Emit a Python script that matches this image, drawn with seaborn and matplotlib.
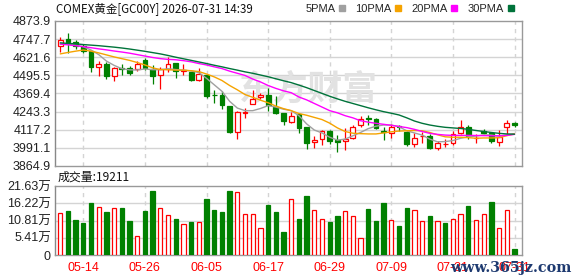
import numpy as np
import pandas as pd
import matplotlib
matplotlib.use("Agg")
import matplotlib.pyplot as plt
from matplotlib.lines import Line2D
import seaborn as sns

# ---------------- data ----------------
tick_dates = ["05-14", "05-26", "06-05", "06-17", "06-29", "07-09", "07-21", "07-31"]
tick_bars = [3, 11, 19, 27, 35, 43, 51, 59]

open_ = [4697, 4747, 4727, 4698, 4663, 4556, 4575, 4493, 4544, 4548,
         4540, 4605, 4540, 4495, 4537, 4582, 4528, 4519, 4465, 4501,
         4362, 4360, 4283, 4100, 4236, 4298, 4342, 4359, 4278, 4236,
         4168, 4225, 4138, 4033, 4052, 4105, 4044, 4039, 4061, 4148,
         4196, 4195, 4111, 4093, 4141, 4104, 4015, 4071, 4075, 3990,
         4016, 4026, 4092, 4133, 4057, 4111, 4098, 4032, 4135, 4167]
close = [4743, 4728, 4700, 4665, 4552, 4578, 4492, 4545, 4540, 4515,
         4578, 4547, 4493, 4542, 4574, 4527, 4533, 4465, 4505, 4352,
         4357, 4291, 4100, 4242, 4243, 4332, 4359, 4286, 4234, 4180,
         4213, 4130, 4025, 4047, 4110, 4036, 4032, 4050, 4138, 4193,
         4190, 4129, 4103, 4138, 4134, 4021, 4061, 4077, 3990, 4027,
         4020, 4089, 4137, 4071, 4060, 4092, 4041, 4064, 4165, 4148]
high = [4761, 4790, 4740, 4713, 4665, 4594, 4590, 4557, 4575, 4559,
        4594, 4615, 4568, 4553, 4621, 4582, 4575, 4519, 4546, 4505,
        4395, 4390, 4285, 4251, 4271, 4395, 4374, 4410, 4353, 4236,
        4238, 4226, 4138, 4076, 4114, 4113, 4082, 4127, 4150, 4212,
        4219, 4200, 4138, 4155, 4153, 4111, 4097, 4102, 4085, 4039,
        4051, 4109, 4182, 4150, 4085, 4120, 4098, 4113, 4187, 4172]
low = [4661, 4652, 4682, 4653, 4522, 4490, 4472, 4459, 4496, 4496,
       4525, 4534, 4436, 4401, 4519, 4480, 4501, 4459, 4457, 4341,
       4300, 4263, 4098, 4056, 4197, 4294, 4332, 4246, 4226, 4148,
       4162, 4095, 3980, 3991, 4010, 4021, 3960, 3977, 4051, 4136,
       4148, 4120, 4044, 4062, 4105, 4005, 4000, 4028, 3982, 3975,
       3998, 4012, 4090, 4051, 4028, 4085, 4028, 4005, 4090, 4138]

ma5 = [4715, 4712, 4706, 4695, 4672, 4640, 4595, 4565, 4542, 4534,
       4533, 4540, 4535, 4535, 4542, 4536, 4532, 4526, 4515, 4475,
       4430, 4385, 4315, 4268, 4250, 4250, 4265, 4285, 4275, 4260,
       4250, 4215, 4158, 4115, 4095, 4065, 4045, 4052, 4075, 4098,
       4125, 4142, 4150, 4150, 4138, 4110, 4095, 4080, 4052, 4033,
       4035, 4042, 4058, 4068, 4073, 4082, 4080, 4072, 4082, 4090]
ma10 = [4645, 4655, 4664, 4672, 4664, 4652, 4638, 4624, 4612, 4600,
        4585, 4568, 4548, 4536, 4535, 4532, 4532, 4528, 4522, 4505,
        4485, 4460, 4425, 4395, 4362, 4343, 4323, 4305, 4282, 4264,
        4250, 4230, 4218, 4203, 4188, 4163, 4130, 4105, 4093, 4090,
        4088, 4088, 4095, 4103, 4108, 4110, 4112, 4110, 4098, 4082,
        4068, 4065, 4065, 4062, 4058, 4060, 4060, 4062, 4076, 4088]
ma20 = [4713, 4708, 4702, 4695, 4688, 4680, 4673, 4665, 4658, 4650,
        4640, 4630, 4620, 4612, 4607, 4604, 4598, 4590, 4578, 4568,
        4555, 4543, 4525, 4510, 4495, 4470, 4450, 4425, 4405, 4388,
        4375, 4345, 4325, 4300, 4275, 4250, 4235, 4215, 4200, 4180,
        4170, 4162, 4155, 4148, 4140, 4132, 4120, 4105, 4092, 4085,
        4080, 4078, 4078, 4078, 4077, 4076, 4075, 4075, 4078, 4085]
ma30 = [4722, 4718, 4715, 4710, 4706, 4702, 4697, 4692, 4686, 4679,
        4671, 4663, 4654, 4645, 4634, 4622, 4611, 4600, 4589, 4578,
        4566, 4555, 4543, 4532, 4520, 4510, 4498, 4486, 4472, 4458,
        4445, 4428, 4410, 4390, 4370, 4350, 4332, 4315, 4300, 4285,
        4270, 4256, 4243, 4232, 4220, 4200, 4178, 4162, 4150, 4141,
        4134, 4130, 4126, 4120, 4112, 4105, 4098, 4092, 4088, 4086]

volume = [13.3, 13.7, 11.1, 10.0, 16.2, 14.9, 13.4, 14.6, 14.7, 10.6,
          6.1, 13.7, 20.0, 14.6, 12.4, 11.2, 9.6, 10.3, 10.5, 17.5,
          14.0, 13.4, 20.0, 19.9, 13.0, 12.8, 8.6, 15.6, 13.4, 7.2,
          17.4, 11.4, 18.4, 14.2, 11.4, 10.3, 12.2, 13.9, 12.1, 5.2,
          14.4, 10.6, 16.2, 11.1, 9.0, 14.7, 14.2, 10.8, 12.2, 10.8,
          10.0, 11.4, 12.8, 15.3, 11.1, 13.0, 16.5, 8.6, 14.2, 1.92]
vol_up = [1, 0, 0, 0, 0, 1, 0, 1, 0, 0,
          1, 0, 0, 1, 1, 0, 1, 0, 1, 0,
          0, 0, 0, 1, 1, 1, 1, 0, 0, 0,
          1, 0, 0, 1, 1, 0, 0, 1, 1, 1,
          0, 0, 0, 1, 0, 0, 1, 1, 0, 1,
          0, 1, 1, 0, 1, 1, 0, 1, 1, 0]

price_ticks = [3864.9, 3991.1, 4117.2, 4243.3, 4369.4, 4495.5, 4621.6, 4747.7, 4873.9]
price_labels = ["3864.9", "3991.1", "4117.2", "4243.3", "4369.4", "4495.5", "4621.6", "4747.7", "4873.9"]
vol_ticks = [0, 5.41, 10.81, 16.22, 21.63]
vol_labels = ["0", "5.41万", "10.81万", "16.22万", "21.63万"]

ma_names = ["5PMA", "10PMA", "20PMA", "30PMA"]
ma_colors = ["#a0a0a0", "#f5a300", "#ff00ff", "#00733a"]

title = "COMEX黄金[GC00Y] 2026-07-31 14:39"
vol_title = "成交量:19211"

# ---------------- styling ----------------
sns.set_theme(style="white")
plt.rcParams["font.family"] = ["Liberation Sans", "Noto Sans CJK SC", "DejaVu Sans"]

RED = "#ff0000"
GREEN = "#008000"
GRID = "#d4d4d4"
SPINE = "#999999"

W, H = 578, 276
fig = plt.figure(figsize=(W / 100, H / 100), dpi=100)
fig.patch.set_facecolor("white")
L, R = 55, 522
ax = fig.add_axes([L / W, 1 - 166 / H, (R - L) / W, (166 - 21) / H])
axv = fig.add_axes([L / W, 1 - 255 / H, (R - L) / W, (255 - 186) / H])

x = np.arange(len(close))
o = np.array(open_, float)
c = np.array(close, float)
hi = np.array(high, float)
lo = np.array(low, float)
up = c >= o

# grid
for a in (ax, axv):
    a.set_xlim(-0.68, 59.97)
    for b in tick_bars:
        a.axvline(b, color=GRID, lw=1.0, ls=(0, (3, 3)), zorder=0)
for t in price_ticks[1:-1]:
    ax.axhline(t, color=GRID, lw=1.0, zorder=0)
for t in vol_ticks[1:-1]:
    axv.axhline(t, color=GRID, lw=1.0, zorder=0)

# watermark
ax.text(308 / 7.7 - 60.2 / 7.7, 4400, "东方财富", fontsize=25, fontweight="bold",
        color="#e2e2e2", ha="center", va="center", family=["Noto Sans CJK SC"], zorder=0.5)

# candles
cols = np.where(up, RED, GREEN)
ax.vlines(x, lo, hi, colors=cols, lw=0.9, zorder=3)
body_lo = np.minimum(o, c)
body_h = np.maximum(np.abs(c - o), 2.0)
ax.bar(x, body_h, bottom=body_lo, width=0.62,
       color=np.where(up, "white", GREEN), edgecolor=cols, linewidth=0.9, zorder=4)

# moving averages via seaborn
df = pd.DataFrame({
    "bar": np.tile(x, 4),
    "value": np.concatenate([ma5, ma10, ma20, ma30]),
    "ma": np.repeat(ma_names, len(x)),
})
sns.lineplot(data=df, x="bar", y="value", hue="ma", palette=dict(zip(ma_names, ma_colors)),
             hue_order=ma_names, ax=ax, legend=False, lw=1.0, zorder=5)

ax.set_ylim(price_ticks[0], price_ticks[-1])
ax.set_yticks(price_ticks)
ax.set_yticklabels(price_labels)
ax.set_xticks([])
ax.set_xlabel("")
ax.set_ylabel("")

# volume
vu = np.array(vol_up, bool)
vcols = np.where(vu, RED, GREEN)
axv.bar(x, volume, width=0.56, color=np.where(vu, "white", GREEN),
        edgecolor=vcols, linewidth=0.9, zorder=3)
axv.set_ylim(0, vol_ticks[-1])
axv.set_yticks(vol_ticks)
axv.set_yticklabels(vol_labels)
axv.set_xticks(tick_bars)
axv.set_xticklabels(tick_dates)

for a in (ax, axv):
    a.tick_params(axis="both", length=0, labelsize=9, colors="#222222", pad=3)
    for s in a.spines.values():
        s.set_color(SPINE)
        s.set_linewidth(1.0)
    a.spines["left"].set_color("#888888")
    a.set_facecolor("white")
axv.tick_params(axis="x", colors=RED, pad=5)

# texts
fig.text(56 / W, 1 - 9 / H, title, fontsize=8.3, color="#111111", va="center", ha="left",
         family=["Noto Sans CJK SC"])
fig.text(58 / W, 1 - 177 / H, vol_title, fontsize=8.6, color="#111111", va="center", ha="left",
         family=["Noto Sans CJK SC"])

handles = [Line2D([], [], ls="none", marker="s", markersize=4.5, color=cc) for cc in ma_colors]
fig.legend(handles, ma_names, loc="center right", bbox_to_anchor=(514 / W, 1 - 9 / H),
           ncol=4, frameon=False, markerfirst=False, handlelength=0.6, handletextpad=0.3,
           columnspacing=0.9, fontsize=8, borderaxespad=0, borderpad=0)

fig.text(571 / W, 1 - 268 / H, "www.365jz.com", fontsize=10.3, color="#1e3a70",
         ha="right", va="center", family=["DejaVu Serif"], fontweight="bold", zorder=10)

fig.savefig("out.png", dpi=100)
